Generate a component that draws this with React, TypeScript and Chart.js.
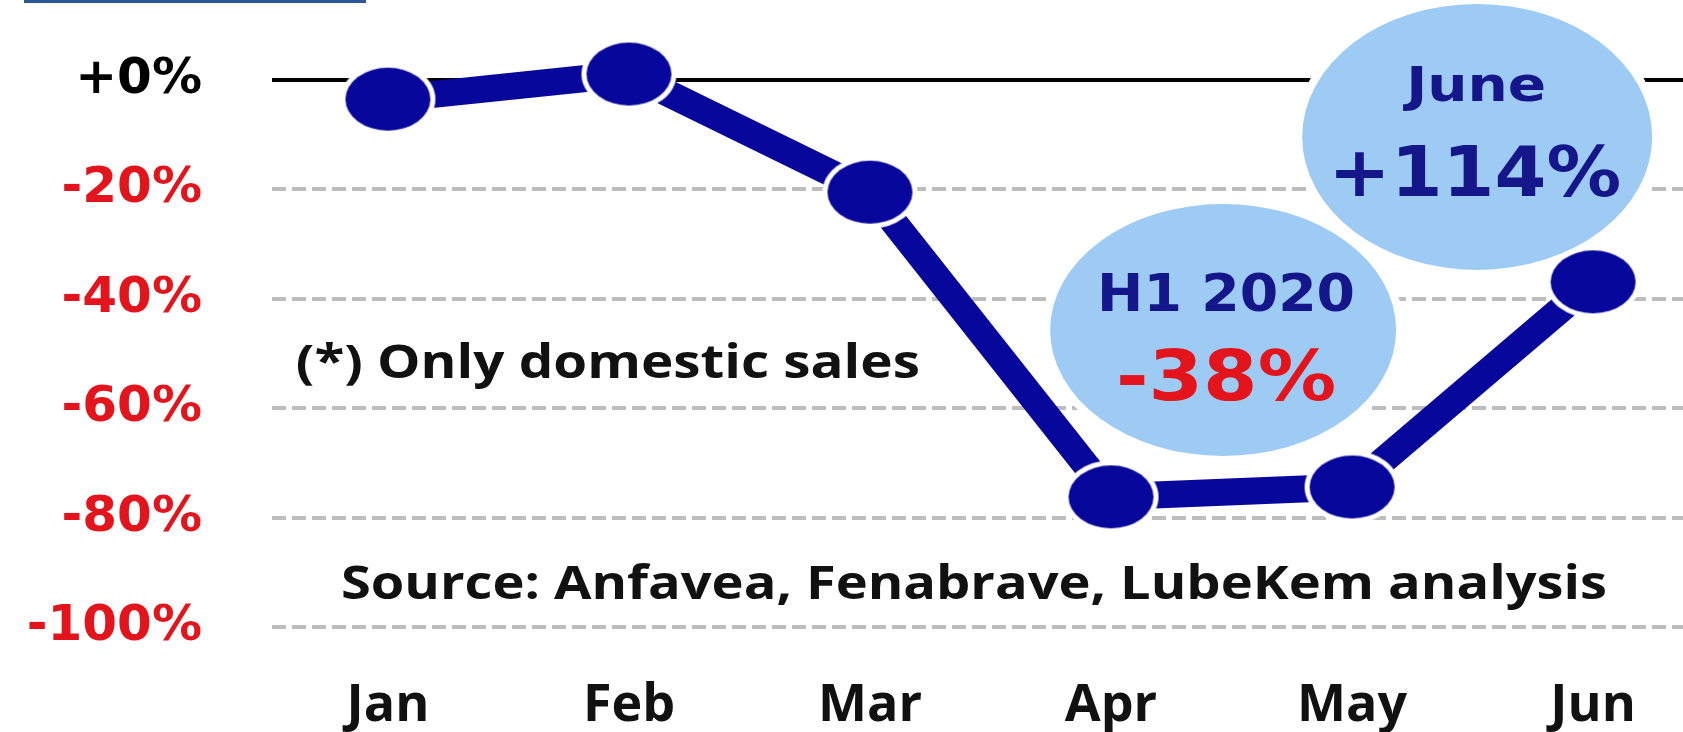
import React, { useEffect, useRef } from "react";
import { Chart, registerables } from "chart.js";

Chart.register(...registerables);

// ---- data ----
const months = ["Jan", "Feb", "Mar", "Apr", "May", "Jun"];
const salesChange = [-3.5, 1.1, -20.5, -76.2, -74.4, -36.9];
const yTickValues = [0, -20, -40, -60, -80, -100];
const yTickLabels = ["+0%", "-20%", "-40%", "-60%", "-80%", "-100%"];
const noteText = "(*) Only domestic sales";
const sourceText = "Source: Anfavea, Fenabrave, LubeKem analysis";
const h1Title = "H1 2020";
const h1Value = "-38%";
const juneTitle = "June";
const juneValue = "+114%";

// ---- styles ----
const NAVY = "#07079C";
const TEXT_NAVY = "#15168A";
const RED = "#E3141B";
const BUBBLE = "#9DCBF4";
const VERDANA = "'DejaVu Sans', Verdana, sans-serif";
const CALIBRI = "'Open Sans', 'Noto Sans', sans-serif";

function makeEllipseMarker(rx: number, ry: number, ring: number, fill: string) {
  const c = document.createElement("canvas");
  c.width = Math.ceil(2 * (rx + ring)) + 2;
  c.height = Math.ceil(2 * (ry + ring)) + 2;
  const g = c.getContext("2d")!;
  g.fillStyle = "#ffffff";
  g.beginPath();
  g.ellipse(c.width / 2, c.height / 2, rx + ring, ry + ring, 0, 0, Math.PI * 2);
  g.fill();
  g.fillStyle = fill;
  g.beginPath();
  g.ellipse(c.width / 2, c.height / 2, rx, ry, 0, 0, Math.PI * 2);
  g.fill();
  return c;
}

function fitText(
  ctx: CanvasRenderingContext2D,
  text: string,
  left: number,
  baseline: number,
  font: string,
  color: string,
  width: number
) {
  ctx.save();
  ctx.font = font;
  ctx.fillStyle = color;
  ctx.textAlign = "left";
  ctx.textBaseline = "alphabetic";
  const w = ctx.measureText(text).width;
  ctx.translate(left, baseline);
  ctx.scale(width / w, 1);
  ctx.fillText(text, 0, 0);
  ctx.restore();
}

function drawBubble(ctx: CanvasRenderingContext2D, cx: number, cy: number, rx: number, ry: number) {
  ctx.save();
  ctx.fillStyle = "#ffffff";
  ctx.beginPath();
  ctx.ellipse(cx, cy, rx + 8, ry + 8, 0, 0, Math.PI * 2);
  ctx.fill();
  ctx.fillStyle = BUBBLE;
  ctx.beginPath();
  ctx.ellipse(cx, cy, rx, ry, 0, 0, Math.PI * 2);
  ctx.fill();
  ctx.restore();
}

const zeroPadding = (s: any) => {
  s.paddingTop = 0;
  s.paddingBottom = 0;
  s.paddingLeft = 0;
  s.paddingRight = 0;
};

const decorPlugin = {
  id: "decor",
  beforeDatasetsDraw(chart: any) {
    const { ctx, chartArea, scales } = chart;
    const xs = scales.x;
    const ys = scales.y;
    // zero line
    const y0 = ys.getPixelForValue(0);
    ctx.save();
    ctx.strokeStyle = "#000000";
    ctx.lineWidth = 4;
    ctx.beginPath();
    ctx.moveTo(chartArea.left, y0);
    ctx.lineTo(chartArea.right, y0);
    ctx.stroke();
    ctx.restore();

    // H1 2020 bubble
    const hx = xs.getPixelForValue(3.465);
    const hy = ys.getPixelForValue(-45.7);
    drawBubble(ctx, hx, hy, 173, 126);
    fitText(ctx, h1Title, hx - 126, hy - 19, `bold 52px ${VERDANA}`, TEXT_NAVY, 258);
    fitText(ctx, h1Value, hx - 107, hy + 70, `bold 70px ${VERDANA}`, RED, 220);

    // June bubble
    const jx = xs.getPixelForValue(4.519);
    const jy = ys.getPixelForValue(-10.4);
    drawBubble(ctx, jx, jy, 175, 133);
    fitText(ctx, juneTitle, jx - 71, jy - 36, `bold 48px ${VERDANA}`, TEXT_NAVY, 140);
    fitText(ctx, juneValue, jx - 149, jy + 59, `bold 70px ${VERDANA}`, TEXT_NAVY, 293);
  },
  afterDraw(chart: any) {
    const { ctx, scales } = chart;
    const xs = scales.x;
    const ys = scales.y;
    fitText(ctx, noteText, xs.getPixelForValue(-0.382), ys.getPixelForValue(-54.5), `bold 47px ${CALIBRI}`, "#111111", 624);
    fitText(ctx, sourceText, xs.getPixelForValue(-0.195), ys.getPixelForValue(-94.9), `bold 46px ${CALIBRI}`, "#111111", 1266);
    // top banner strip
    ctx.save();
    ctx.fillStyle = "#2E5698";
    ctx.fillRect(24, 0, 342, 3);
    ctx.restore();
  },
};

export default function App() {
  const ref = useRef<HTMLCanvasElement | null>(null);

  useEffect(() => {
    const canvas = ref.current!;
    const marker = makeEllipseMarker(42.5, 31.5, 5, NAVY);
    const chart = new Chart(canvas, {
      type: "line",
      data: {
        datasets: [
          {
            data: months.map((_, i) => ({ x: i, y: salesChange[i] })),
            borderColor: NAVY,
            backgroundColor: NAVY,
            borderWidth: 27,
            borderJoinStyle: "round",
            tension: 0,
            pointStyle: marker as any,
            pointRadius: 30,
            pointHoverRadius: 30,
            pointBorderWidth: 0,
            clip: false as any,
          },
        ],
      },
      plugins: [decorPlugin],
      options: {
        responsive: false,
        animation: false,
        events: [],
        layout: { padding: 0, autoPadding: false },
        plugins: { legend: { display: false }, tooltip: { enabled: false } },
        scales: {
          x: {
            type: "linear",
            min: -0.481,
            max: 5.373,
            afterBuildTicks: (s: any) => {
              s.ticks = months.map((_, i) => ({ value: i }));
            },
            afterFit: (s: any) => {
              s.height = 105;
              zeroPadding(s);
            },
            ticks: {
              callback: (v: any) => months[Math.round(Number(v))] ?? "",
              color: "#111111",
              font: { family: CALIBRI, size: 52, weight: "bold" },
              padding: 48,
              maxRotation: 0,
              autoSkip: false,
            },
            grid: { display: false, drawTicks: false },
            border: { display: false },
          },
          y: {
            type: "linear",
            min: -100,
            max: 14.63,
            afterBuildTicks: (s: any) => {
              s.ticks = yTickValues.map((v) => ({ value: v }));
            },
            afterFit: (s: any) => {
              s.width = 272;
              zeroPadding(s);
            },
            ticks: {
              callback: (v: any) => yTickLabels[yTickValues.indexOf(Number(v))] ?? "",
              color: (c: any) => (c.tick && c.tick.value === 0 ? "#000000" : RED),
              font: { family: VERDANA, size: 50, weight: "bold" },
              padding: 70,
            },
            grid: {
              drawTicks: false,
              color: (c: any) => (c.tick && c.tick.value === 0 ? "rgba(0,0,0,0)" : "#BDBDBD"),
              lineWidth: 4,
            },
            border: { display: false, dash: [14, 6] },
          },
        },
      },
    });
    return () => chart.destroy();
  }, []);

  return (
    <div style={{ position: "fixed", left: 0, top: 0, width: 1683, height: 732, background: "#ffffff" }}>
      <canvas ref={ref} width={1683} height={732} style={{ display: "block" }} />
    </div>
  );
}
